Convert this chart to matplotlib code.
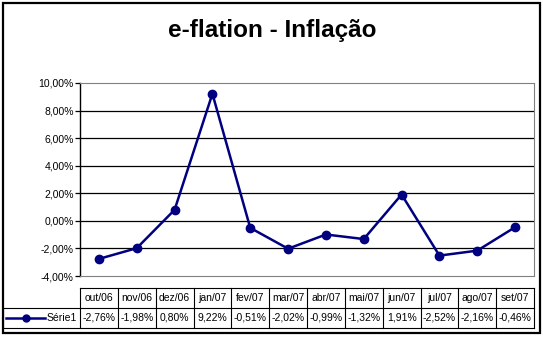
import matplotlib
matplotlib.use("Agg")
import matplotlib.pyplot as plt
from matplotlib.lines import Line2D
from matplotlib.patches import Rectangle
from matplotlib.ticker import FuncFormatter
import matplotlib.transforms as mtransforms

plt.rcParams['font.family'] = ['Liberation Sans', 'DejaVu Sans']

title = "e-flation - Inflação"
series_name = "Série1"
months = ["out/06", "nov/06", "dez/06", "jan/07", "fev/07", "mar/07",
          "abr/07", "mai/07", "jun/07", "jul/07", "ago/07", "set/07"]
inflation = [-2.76, -1.98, 0.80, 9.22, -0.51, -2.02,
             -0.99, -1.32, 1.91, -2.52, -2.16, -0.46]
y_ticks = [-4, -2, 0, 2, 4, 6, 8, 10]

W, H = 543, 338
fig = plt.figure(figsize=(W / 100, H / 100), dpi=100)
fig.patch.set_facecolor("white")

def fx(px):
    return px / W

def fy(py):
    return 1 - py / H

def pct(v):
    return f"{v:.2f}%".replace(".", ",")

# outer chart frame
fig.add_artist(Rectangle((fx(2.5), fy(333)), fx(540) - fx(2.5), fy(2.5) - fy(333),
                         transform=fig.transFigure, fill=False,
                         edgecolor="black", linewidth=1.6))

fig.text(fx(272), fy(31), title, ha="center", va="center",
         fontsize=17.5, fontweight="bold")

left, right, top, bottom = 80, 534, 83, 276
ax = fig.add_axes([fx(left), fy(bottom), fx(right) - fx(left), fy(top) - fy(bottom)])
ax.set_xlim(-0.5, len(months) - 0.5)
ax.set_ylim(-4, 10)

navy = "#000080"
x = list(range(len(months)))
ax.plot(x, inflation, color=navy, linewidth=1.8, marker="o", markersize=6,
        markerfacecolor=navy, markeredgecolor=navy, zorder=3)

for v in y_ticks[1:-1]:
    ax.axhline(v, color="black", linewidth=0.9, zorder=1)

ax.set_yticks(y_ticks)
ax.yaxis.set_major_formatter(FuncFormatter(lambda v, p: pct(v)))
ax.tick_params(axis="y", direction="out", length=3.5, width=0.9, labelsize=7.5,
               pad=1, colors="black")
ax.set_xticks([])

for side in ["top", "right", "bottom"]:
    ax.spines[side].set_color("#808080")
    ax.spines[side].set_linestyle((0, (1, 1)))
    ax.spines[side].set_linewidth(0.8)
ax.spines["left"].set_color("black")
ax.spines["left"].set_linewidth(1.0)

# data table under the axis, columns aligned with the categories
trans = mtransforms.blended_transform_factory(ax.transData, fig.transFigure)
row_top, row_mid, row_bot = fy(288), fy(308), fy(328)
lw = 0.8
fig.add_artist(Line2D([-0.5, len(months) - 0.5], [row_top, row_top], transform=trans,
                      color="black", linewidth=lw))
fig.add_artist(Line2D([fx(3), fx(right)], [row_mid, row_mid], transform=fig.transFigure,
                      color="black", linewidth=lw))
fig.add_artist(Line2D([fx(3), fx(right)], [row_bot, row_bot], transform=fig.transFigure,
                      color="black", linewidth=lw))
fig.add_artist(Line2D([fx(3), fx(3)], [row_mid, row_bot], transform=fig.transFigure,
                      color="black", linewidth=lw))
for i in range(len(months) + 1):
    xb = i - 0.5
    fig.add_artist(Line2D([xb, xb], [row_bot, row_top], transform=trans,
                          color="black", linewidth=lw))

for i, (m, v) in enumerate(zip(months, inflation)):
    fig.text(i, (row_top + row_mid) / 2, m, transform=trans, ha="center",
             va="center", fontsize=7.5)
    fig.text(i, (row_mid + row_bot) / 2, pct(v),
             transform=trans, ha="center", va="center", fontsize=7.5)

# legend key in the first column
ymid = (row_mid + row_bot) / 2
fig.add_artist(Line2D([fx(6), fx(45)], [ymid, ymid], transform=fig.transFigure,
                      color=navy, linewidth=1.8))
fig.add_artist(Line2D([fx(25.5)], [ymid], transform=fig.transFigure, color=navy,
                      marker="o", markersize=5, linestyle="none"))
fig.text(fx(47), ymid, series_name, ha="left", va="center", fontsize=7.5)

fig.savefig("out.png", dpi=100)
